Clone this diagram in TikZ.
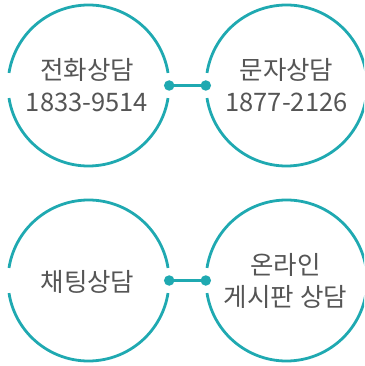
\documentclass[tikz,border=0pt]{standalone}
\usepackage{fontspec}
\newfontfamily\kr{Noto Sans CJK KR}
\definecolor{teal1}{HTML}{1FA9B1}
\definecolor{txt}{HTML}{555555}
\begin{document}
\begin{tikzpicture}[x=1pt,y=1pt,
  ring/.style={circle,minimum size=161pt,inner sep=0pt,draw=none},
  label/.style={font=\kr\fontsize{25.5}{32}\selectfont,text=txt,align=center,inner sep=0pt},
  dot/.style={circle,fill=teal1,minimum size=10.5pt,inner sep=0pt},
  arcline/.style={draw=teal1,line width=2.8pt},
  link/.style={draw=teal1,line width=2.8pt}]
\useasboundingbox (0,0) rectangle (364,-366);
\clip (0,0) rectangle (364,-366);
\def\R{80.5}
\def\G{9}
% circles
\node[ring] (c1) at (88.5,-85.5) {};
\node[ring] (c2) at (286.5,-85.5) {};
\node[ring] (c3) at (88.5,-280.5) {};
\node[ring] (c4) at (286.5,-280.5) {};
\foreach \c in {c1,c2,c3,c4}{
  \draw[arcline] ([shift={(\G:\R)}]\c.center) arc[start angle=\G,end angle=180-\G,radius=\R];
  \draw[arcline] ([shift={(180+\G:\R)}]\c.center) arc[start angle=180+\G,end angle=360-\G,radius=\R];
}
% dots and links
\node[dot] (d1) at (c1.east) {};
\node[dot] (d2) at (c2.west) {};
\node[dot] (d3) at (c3.east) {};
\node[dot] (d4) at (c4.west) {};
\draw[link] (d1.center) -- (d2.center);
\draw[link] (d3.center) -- (d4.center);
% texts
\node[label] (t1) at ([xshift=-1.5pt,yshift=0pt]c1.center) {전화상담\\1833-9514};
\node[label] (t2) at ([yshift=0pt]c2.center) {문자상담\\1877-2126};
\node[label] (t3) at ([xshift=-1pt,yshift=-1pt]c3.center) {채팅상담};
\node[label] (t4) at ([xshift=-1pt]c4.center) {온라인\\게시판 상담};
\end{tikzpicture}
\end{document}
